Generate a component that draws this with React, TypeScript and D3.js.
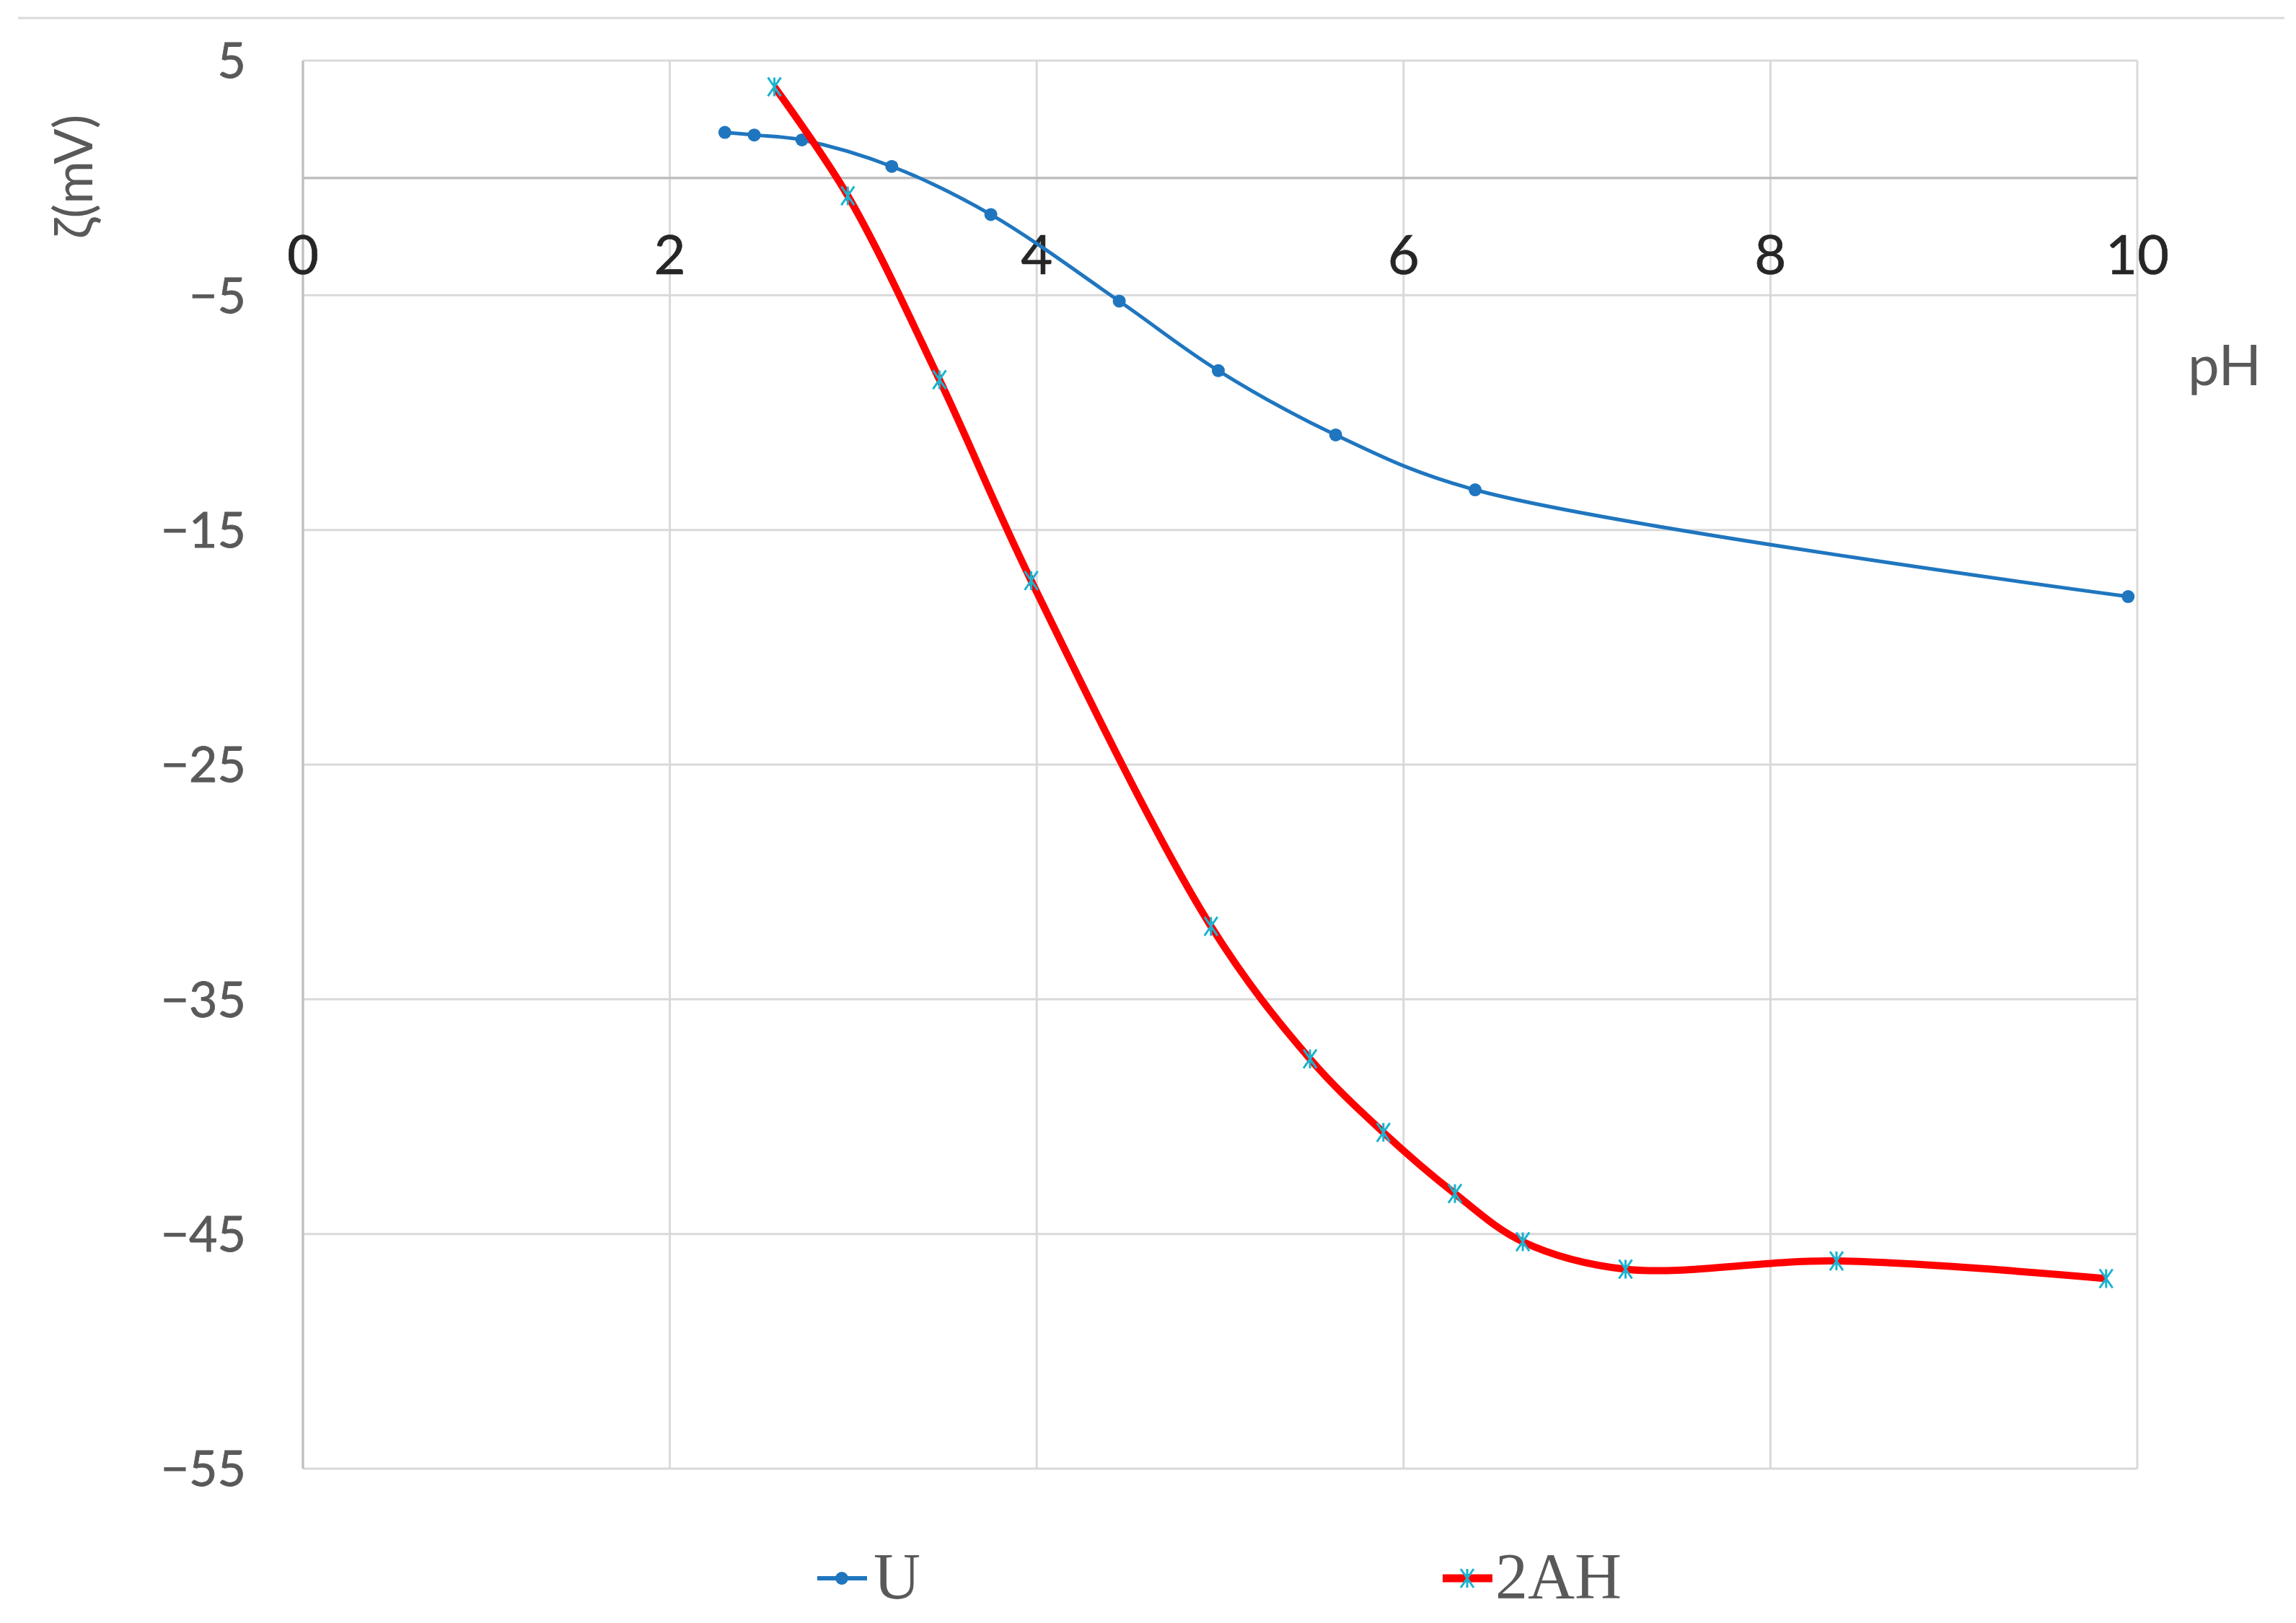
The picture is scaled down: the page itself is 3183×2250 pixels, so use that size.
import React from "react";
import * as d3 from "d3";

// ---- data ----
const uPH = [2.30, 2.46, 2.72, 3.21, 3.75, 4.45, 4.99, 5.63, 6.39, 9.95];
const uZeta = [1.94, 1.83, 1.62, 0.49, -1.56, -5.25, -8.21, -10.95, -13.29, -17.84];
const ahPH = [2.57, 2.97, 3.47, 3.97, 4.95, 5.49, 5.89, 6.28, 6.65, 7.21, 8.36, 9.83];
const ahZeta = [3.88, -0.76, -8.6, -17.16, -31.89, -37.54, -40.67, -43.28, -45.33, -46.5, -46.15, -46.9];

const xTicks = [0, 2, 4, 6, 8, 10];
const yTicks = [5, -5, -15, -25, -35, -45, -55];
const seriesNames = ["U", "2AH"];
const xTitle = "pH";
const yTitle = "ζ(mV)";

const W = 3183;
const H = 2250;

export default function App() {
  const x = d3.scaleLinear().domain([0, 10]).range([420, 2963]);
  const y = d3.scaleLinear().domain([-55, 5]).range([2036, 84]);

  const uData = uPH.map((p, i) => [p, uZeta[i]] as [number, number]);
  const ahData = ahPH.map((p, i) => [p, ahZeta[i]] as [number, number]);

  const line = d3
    .line<[number, number]>()
    .x((d) => x(d[0]))
    .y((d) => y(d[1]))
    .curve(d3.curveCatmullRom.alpha(0.5));

  const blue = "#1F76BF";
  const red = "#FF0000";
  const cyan = "#1AB3CF";
  const grid = "#D9D9D9";
  const axisCol = "#BFBFBF";
  const labelCol = "#595959";
  const sans = "Lato, 'Noto Sans', 'DejaVu Sans', sans-serif";
  const serif = "'Liberation Serif', 'DejaVu Serif', serif";

  const star = (cx: number, cy: number, k: string | number) => {
    const hw = 9;
    const hh = 13;
    return (
      <path
        key={k}
        d={`M${cx - hw},${cy - hh}L${cx + hw},${cy + hh}M${cx + hw},${cy - hh}L${cx - hw},${cy + hh}M${cx},${cy - hh}L${cx},${cy + hh}`}
        stroke={cyan}
        strokeWidth={3}
        fill="none"
      />
    );
  };

  const [x0, x1] = x.range();
  const [y0, y1] = y.range();

  return (
    <svg
      width={W}
      height={H}
      viewBox={`0 0 ${W} ${H}`}
      style={{ position: "absolute", left: 0, top: 0, display: "block", background: "#fff" }}
    >
      <rect x={0} y={0} width={W} height={H} fill="#fff" />
      {/* chart area top border */}
      <line x1={25} x2={3167} y1={25} y2={25} stroke={grid} strokeWidth={3} />

      {/* horizontal gridlines */}
      {yTicks.map((t) => (
        <line key={"hy" + t} x1={x0} x2={x1} y1={y(t)} y2={y(t)} stroke={grid} strokeWidth={3} />
      ))}
      {/* vertical gridlines */}
      {xTicks.map((t) => (
        <line key={"vx" + t} x1={x(t)} x2={x(t)} y1={y1} y2={y0} stroke={grid} strokeWidth={3} />
      ))}
      {/* axes */}
      <line x1={x0} x2={x1} y1={y(0)} y2={y(0)} stroke={axisCol} strokeWidth={3.5} />
      <line x1={x0} x2={x0} y1={y1} y2={y0} stroke={axisCol} strokeWidth={3} />

      {/* y tick labels */}
      {yTicks.map((t) => (
        <text
          key={"yl" + t}
          x={341}
          y={y(t)}
          dy="0.36em"
          textAnchor="end"
          fontFamily={sans}
          fontSize={68}
          fill={labelCol}
          stroke={labelCol}
          strokeWidth={0.8}
        >
          {t < 0 ? "−" + Math.abs(t) : String(t)}
        </text>
      ))}
      {/* x tick labels */}
      {xTicks.map((t) => (
        <text
          key={"xl" + t}
          x={x(t)}
          y={380}
          textAnchor="middle"
          fontFamily={sans}
          fontSize={76}
          fill="#262626"
          stroke="#262626"
          strokeWidth={0.6}
        >
          {String(t)}
        </text>
      ))}

      {/* axis titles */}
      <text
        transform={`translate(128, 245) rotate(-90)`}
        textAnchor="middle"
        fontFamily={sans}
        fontSize={73}
        fill={labelCol}
      >
        {yTitle}
      </text>
      <text x={3084} y={534} textAnchor="middle" fontFamily={sans} fontSize={78} fill={labelCol}>
        {xTitle}
      </text>

      {/* U series */}
      <path d={line(uData) || ""} fill="none" stroke={blue} strokeWidth={5} />
      {uData.map((d, i) => (
        <circle key={"u" + i} cx={x(d[0])} cy={y(d[1])} r={9} fill={blue} />
      ))}

      {/* 2AH series */}
      <path d={line(ahData) || ""} fill="none" stroke={red} strokeWidth={10} strokeLinejoin="round" />
      {ahData.map((d, i) => star(x(d[0]), y(d[1]), "a" + i))}

      {/* legend */}
      <line x1={1133} x2={1202} y1={2188} y2={2188} stroke={blue} strokeWidth={6} />
      <circle cx={1167} cy={2188} r={9} fill={blue} />
      <text x={1211} y={2216} fontFamily={serif} fontSize={90} fill={labelCol}>
        {seriesNames[0]}
      </text>
      <line x1={2000} x2={2069} y1={2188} y2={2188} stroke={red} strokeWidth={11} />
      {star(2034, 2188, "leg")}
      <text x={2073} y={2216} fontFamily={serif} fontSize={90} fill={labelCol}>
        {seriesNames[1]}
      </text>
    </svg>
  );
}
